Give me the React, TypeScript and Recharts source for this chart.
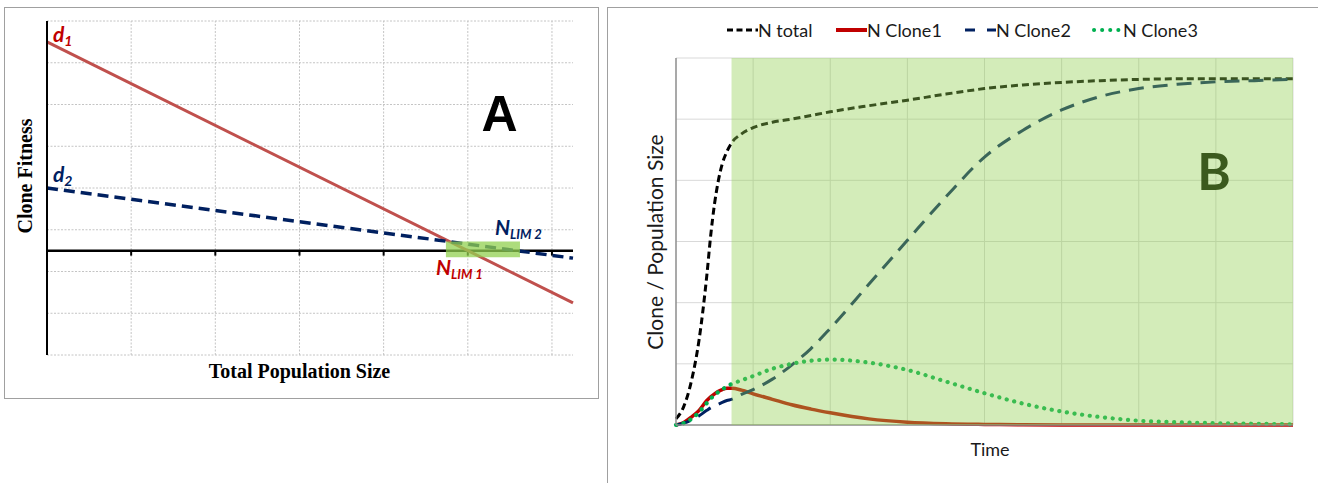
import React from 'react';
import { LineChart, Line, XAxis, YAxis, ReferenceLine, ReferenceArea } from 'recharts';

// ---------- Panel A data ----------
const popSize = [0, 6.25];
const fitnessD1 = [5, -1.25];
const fitnessD2 = [1.5, -0.18];
const popTicks = [0, 1, 2, 3, 4, 5, 6];
const fitTicks = [-2.5, -1.5, -0.5, 0.5, 1.5, 2.5, 3.5, 4.5, 5.5];
const nlimBandX = [4.74, 5.62];
const nlimBandY = [-0.16, 0.22];

// ---------- Panel B data ----------
const time = [0, 0.1, 0.2, 0.3, 0.4, 0.45, 0.5, 0.55, 0.6, 0.66, 0.72, 0.85, 1.0, 1.25, 1.5, 1.75, 2.0, 2.5, 3.0, 3.5, 4.0, 4.5, 5.0, 5.5, 6.0, 6.5, 7.0, 7.5, 8.0];
const nTotal = [0.1, 0.3, 0.72, 1.4, 2.45, 3.1, 3.62, 4.0, 4.27, 4.47, 4.61, 4.76, 4.86, 4.95, 5.0, 5.06, 5.12, 5.22, 5.31, 5.41, 5.5, 5.56, 5.6, 5.63, 5.65, 5.66, 5.66, 5.66, 5.66];
const nClone1 = [0, 0.04, 0.13, 0.24, 0.4, 0.46, 0.51, 0.55, 0.58, 0.6, 0.6, 0.57, 0.51, 0.42, 0.33, 0.26, 0.2, 0.1, 0.045, 0.02, 0.01, 0.005, 0.002, 0.001, 0, 0, 0, 0, 0];
const nClone2 = [0, 0.03, 0.08, 0.15, 0.24, 0.28, 0.31, 0.34, 0.37, 0.4, 0.42, 0.5, 0.58, 0.75, 0.98, 1.25, 1.58, 2.3, 3.02, 3.73, 4.38, 4.82, 5.15, 5.37, 5.5, 5.57, 5.61, 5.63, 5.65];
const nClone3 = [0, 0.03, 0.1, 0.21, 0.36, 0.43, 0.49, 0.54, 0.58, 0.63, 0.67, 0.73, 0.8, 0.92, 1.0, 1.05, 1.07, 1.02, 0.9, 0.71, 0.52, 0.35, 0.22, 0.13, 0.07, 0.045, 0.03, 0.02, 0.01];
const timeTicks = [0, 1, 2, 3, 4, 5, 6, 7, 8];
const sizeTicks = [0, 1, 2, 3, 4, 5, 6];
const shadeX = [0.72, 8];
const seriesNames = ['N total', 'N Clone1', 'N Clone2', 'N Clone3'];

const dataA = popSize.map((x, i) => ({ x, d1: fitnessD1[i], d2: fitnessD2[i] }));
const dataB = time.map((t, i) => ({ t, total: nTotal[i], c1: nClone1[i], c2: nClone2[i], c3: nClone3[i] }));

const RED = '#c00000';
const NAVY = '#002060';
const CALI = 'Lato, "Open Sans", sans-serif';
const SERIF = '"Liberation Serif", "DejaVu Serif", serif';

const legendStyles = [
  { stroke: '#000', dash: '6 3.5', width: 3 },
  { stroke: RED, dash: undefined, width: 4 },
  { stroke: NAVY, dash: '10 12', width: 3 },
  { stroke: '#00b050', dash: '0.1 8', width: 4, cap: 'round' },
];

export default function App() {
  return (
    <div style={{ position: 'absolute', left: 0, top: 0, width: 1318, height: 483, background: '#fff', overflow: 'hidden' }}>
      {/* panel borders */}
      <div style={{ position: 'absolute', left: 4, top: 7, width: 593, height: 390, border: '1px solid #a0a0a0' }} />
      <div style={{ position: 'absolute', left: 607, top: 7, width: 720, height: 490, border: '1px solid #a0a0a0' }} />

      {/* Panel A */}
      <div style={{ position: 'absolute', left: 0, top: 0 }}>
        <LineChart width={600} height={400} data={dataA} margin={{ top: 21, right: 27, bottom: 45, left: 46 }}>
          {fitTicks.map((v) => (
            <ReferenceLine key={'h' + v} y={v} stroke="#c4c4c4" strokeDasharray="2 1.5" />
          ))}
          {popTicks.slice(1).map((v) => (
            <ReferenceLine key={'v' + v} x={v} stroke="#c4c4c4" strokeDasharray="2 1.5" />
          ))}
          <XAxis dataKey="x" type="number" domain={[0, 6.25]} ticks={popTicks} hide />
          <YAxis type="number" domain={[-2.5, 5.5]} ticks={fitTicks} width={1} tick={false}
            axisLine={{ stroke: '#000', strokeWidth: 2 }} tickLine={{ stroke: '#000', strokeWidth: 2 }} tickSize={5} />
          <ReferenceLine y={0} stroke="#000" strokeWidth={2.5} />
          {popTicks.slice(1).map((t) => (
            <ReferenceLine key={t} segment={[{ x: t, y: 0 }, { x: t, y: -0.12 }]} stroke="#000" strokeWidth={2} />
          ))}
          <Line dataKey="d1" type="linear" stroke="#c0504d" strokeWidth={3} dot={false} isAnimationActive={false} />
          <Line dataKey="d2" type="linear" stroke={NAVY} strokeWidth={3.5} strokeDasharray="11 6" dot={false} isAnimationActive={false} />
          <ReferenceArea x1={nlimBandX[0]} x2={nlimBandX[1]} y1={nlimBandY[0]} y2={nlimBandY[1]}
            fill="#92d050" fillOpacity={0.75} stroke="none" zIndex={900} />
        </LineChart>
      </div>

      {/* Panel B */}
      <div style={{ position: 'absolute', left: 607, top: 0 }}>
        <LineChart width={711} height={483} data={dataB} margin={{ top: 58, right: 25, bottom: 57, left: 68 }}>
          {sizeTicks.slice(1).map((v) => (
            <ReferenceLine key={'h' + v} y={v} stroke="#d9d9d9" strokeWidth={1} />
          ))}
          {timeTicks.slice(1).map((v) => (
            <ReferenceLine key={'v' + v} x={v} stroke="#d9d9d9" strokeWidth={1} />
          ))}
          <XAxis dataKey="t" type="number" domain={[0, 8]} ticks={timeTicks} height={1} tick={false}
            axisLine={{ stroke: '#8c8c8c', strokeWidth: 1.5 }} tickLine={{ stroke: '#8c8c8c', strokeWidth: 1.5 }} tickSize={4} />
          <YAxis type="number" domain={[0, 6]} ticks={sizeTicks} width={1} tick={false}
            axisLine={{ stroke: '#8c8c8c', strokeWidth: 1.5 }} tickLine={{ stroke: '#8c8c8c', strokeWidth: 1.5 }} tickSize={4} />
          <Line dataKey="total" name={seriesNames[0]} type="monotone" stroke="#000" strokeWidth={3} strokeDasharray="7 4" dot={false} isAnimationActive={false} />
          <Line dataKey="c1" name={seriesNames[1]} type="monotone" stroke={RED} strokeWidth={3.5} dot={false} isAnimationActive={false} />
          <Line dataKey="c2" name={seriesNames[2]} type="monotone" stroke={NAVY} strokeWidth={3} strokeDasharray="15 9" dot={false} isAnimationActive={false} />
          <Line dataKey="c3" name={seriesNames[3]} type="monotone" stroke="#00b050" strokeWidth={4.2} strokeDasharray="0.1 7.6" strokeLinecap="round" dot={false} isAnimationActive={false} />
          <ReferenceArea x1={shadeX[0]} x2={shadeX[1]} y1={0} y2={6} fill="#92d050" fillOpacity={0.4} stroke="none" zIndex={900} />
        </LineChart>
      </div>

      {/* Text overlay */}
      <svg width={1318} height={483} style={{ position: 'absolute', left: 0, top: 0, pointerEvents: 'none' }}>
        {/* Panel A annotations */}
        <text x={53} y={42} fill={RED} fontFamily={CALI} fontWeight="bold" fontStyle="italic" fontSize={21}>
          d<tspan fontSize={14} dy={4}>1</tspan>
        </text>
        <text x={53} y={182} fill={NAVY} fontFamily={CALI} fontWeight="bold" fontStyle="italic" fontSize={21}>
          d<tspan fontSize={14} dy={4}>2</tspan>
        </text>
        <text x={495} y={235} fill={NAVY} fontFamily={CALI} fontWeight="bold" fontStyle="italic" fontSize={21}>
          N<tspan fontSize={13} dy={4}>LIM 2</tspan>
        </text>
        <text x={436} y={275} fill={RED} fontFamily={CALI} fontWeight="bold" fontStyle="italic" fontSize={21}>
          N<tspan fontSize={13} dy={4}>LIM 1</tspan>
        </text>
        <text x={499.5} y={131} textAnchor="middle" fontFamily='"Liberation Sans", Arial, sans-serif' fontWeight="bold" fontSize={50} fill="#000">A</text>
        <text x={32} y={176} transform="rotate(-90 32 176)" textAnchor="middle" fontFamily={SERIF} fontWeight="bold" fontSize={20} fill="#000">Clone Fitness</text>
        <text x={299.5} y={378} textAnchor="middle" fontFamily={SERIF} fontWeight="bold" fontSize={20} fill="#000">Total Population Size</text>

        {/* Panel B annotations */}
        <text x={663} y={242} transform="rotate(-90 663 242)" textAnchor="middle" fontFamily={CALI} fontSize={21} fill="#1a1a1a">Clone / Population Size</text>
        <text x={990} y={456} textAnchor="middle" fontFamily={CALI} fontSize={18} fill="#1a1a1a">Time</text>
        <text x={1214} y={190} textAnchor="middle" fontFamily={CALI} fontWeight="bold" fontSize={51} fill="#3b5a1e">B</text>

        {/* Legend */}
        {seriesNames.map((name, i) => {
          const starts = [727, 836, 965, 1092];
          const x0 = starts[i];
          const s = legendStyles[i];
          return (
            <g key={name}>
              <line x1={x0 + (s.cap ? 2 : 0)} x2={x0 + 31} y1={30} y2={30} stroke={s.stroke} strokeWidth={s.width}
                strokeDasharray={s.dash} strokeLinecap={s.cap as any} />
              <text x={x0 + 31} y={36.5} fontFamily={CALI} fontSize={18} fill="#1a1a1a">{name}</text>
            </g>
          );
        })}
      </svg>
    </div>
  );
}
